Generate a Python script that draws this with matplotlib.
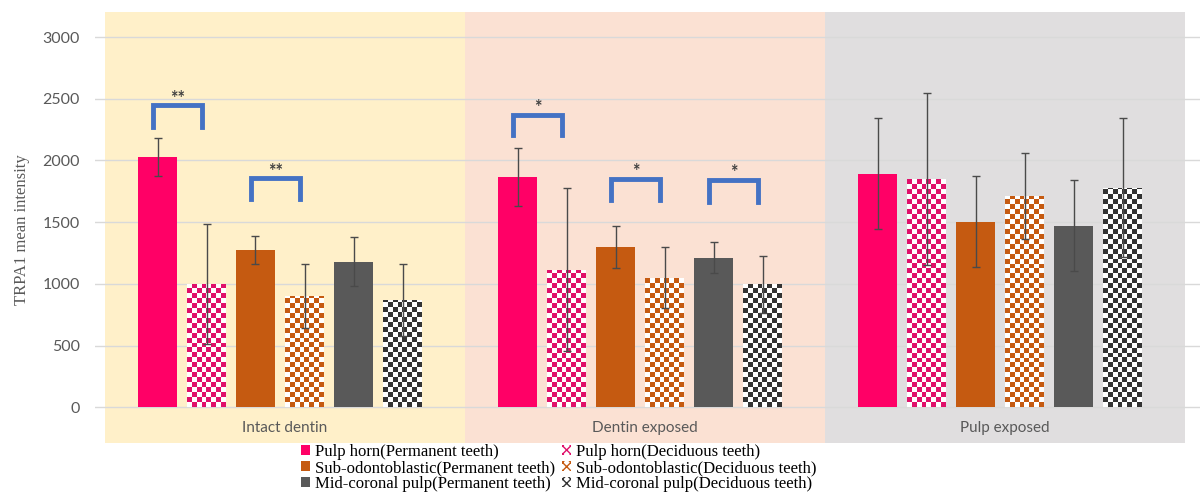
import numpy as np
import matplotlib
matplotlib.use("Agg")
import matplotlib.pyplot as plt
import matplotlib.patches as mpatches
from matplotlib.colors import ListedColormap


# conditions along the x axis
conditions = ["Intact dentin", "Dentin exposed", "Pulp exposed"]

# series: region x tooth type
series_names = [
    "Pulp horn(Permanent teeth)",
    "Pulp horn(Deciduous teeth)",
    "Sub-odontoblastic(Permanent teeth)",
    "Sub-odontoblastic(Deciduous teeth)",
    "Mid-coronal pulp(Permanent teeth)",
    "Mid-coronal pulp(Deciduous teeth)",
]

# mean intensity per series, one value per condition
means = [
    [2030, 1867, 1892],
    [1000, 1116, 1851],
    [1273, 1297, 1503],
    [903, 1049, 1714],
    [1178, 1213, 1470],
    [868, 995, 1778],
]
# standard deviation per series
sds = [
    [154, 233, 449],
    [485, 657, 698],
    [115, 171, 370],
    [260, 248, 348],
    [198, 125, 370],
    [289, 232, 563],
]

# significance: (condition, left series, right series, bracket top, leg bottom, label)
sig_pairs = [
    (0, 0, 1, 2447, 2273, "**"),
    (0, 2, 3, 1854, 1684, "**"),
    (1, 0, 1, 2368, 2205, "*"),
    (1, 2, 3, 1849, 1678, "*"),
    (1, 4, 5, 1840, 1660, "*"),
]

yticks = [0, 500, 1000, 1500, 2000, 2500, 3000]

band_colors = ["#FFF0C9", "#FBE1D3", "#E0DEDF"]
series_colors = ["#FF0066", "#E0106A", "#C55A11", "#C55A11", "#595959", "#333333"]
checkered = [False, True, False, True, False, True]

sans = ["Lato", "DejaVu Sans"]
serif = ["Liberation Serif", "DejaVu Serif"]
text_gray = "#595959"

fig = plt.figure(figsize=(12, 4.95), dpi=100)
ax = fig.add_axes([95 / 1200, 1 - 443 / 495, 1 - 95 / 1200, (443 - 12) / 495])

gap = 33 / 360
step = 49 / 360
width = 39 / 360
ymin, ymax = -290, 3203
cell_y = 40

# background band per condition
for c, col in enumerate(band_colors):
    ax.axvspan(c, c + 1, color=col, lw=0, zorder=0)

for t in yticks:
    ax.axhline(t, color="#D9D9D9", lw=1, zorder=1)

for s in range(6):
    for c in range(3):
        x0 = c + gap + s * step
        h = means[s][c]
        if checkered[s]:
            bar = ax.bar(x0, h, width=width, align="edge", color="none",
                         lw=0, zorder=2)[0]
            rows = int(np.ceil(h / cell_y))
            cols = 8
            board = (np.add.outer(np.arange(rows), np.arange(cols)) % 2)[::-1]
            im = ax.imshow(board, cmap=ListedColormap(["white", series_colors[s]]),
                           extent=(x0, x0 + width, 0, rows * cell_y),
                           aspect="auto", interpolation="nearest", zorder=2)
            im.set_clip_path(bar)
        else:
            ax.bar(x0, h, width=width, align="edge", color=series_colors[s],
                   lw=0, zorder=2)
        ax.errorbar(x0 + width / 2, h, yerr=sds[s][c], color="#4a4a4a",
                    lw=1, capsize=3, capthick=1, zorder=3)

for c, s1, s2, top, bottom, label in sig_pairs:
    xa = c + gap + s1 * step + width / 2 - 0.012
    xb = c + gap + s2 * step + width / 2 - 0.012
    ax.plot([xa, xa, xb, xb], [bottom, top, top, bottom], color="#4472C4",
            lw=3.5, solid_joinstyle="miter", zorder=4)
    ax.text((xa + xb) / 2, top - 10, label, ha="center", va="bottom",
            fontsize=13, fontweight="bold", color="#404040", family=sans, zorder=4)

for c, name in enumerate(conditions):
    ax.text(c + 0.5, -170, name, ha="center", va="center", fontsize=11,
            color=text_gray, family=sans)

ax.set_xlim((95 - 105) / 360, (1200 - 105) / 360)
ax.set_ylim(ymin, ymax)
ax.set_xticks([])
ax.set_yticks(yticks)
ax.tick_params(axis="y", length=0, pad=11, labelsize=11.5, labelcolor=text_gray)
for lab in ax.get_yticklabels():
    lab.set_family(sans)
for sp in ax.spines.values():
    sp.set_visible(False)
ax.set_ylabel("TRPA1 mean intensity", family=serif, fontsize=12,
              color=text_gray)
ax.yaxis.set_label_coords(-0.059, 0.494)

handles = []
for s in range(6):
    if checkered[s]:
        handles.append(mpatches.Patch(facecolor="white", edgecolor=series_colors[s],
                                      hatch="xxxx", lw=0))
    else:
        handles.append(mpatches.Patch(facecolor=series_colors[s], lw=0))
# row-major order for a 2-column legend
order = [0, 2, 4, 1, 3, 5]
fig.legend([handles[i] for i in order], [series_names[i] for i in order],
           ncol=2, loc="upper left", bbox_to_anchor=(301 / 1200, 1 - 444 / 495),
           frameon=False, prop={"family": serif, "size": 12},
           handlelength=0.55, handleheight=0.55, handletextpad=0.3,
           labelspacing=0.0, columnspacing=0.4, borderpad=0, borderaxespad=0)

fig.savefig("out.png", dpi=100)
